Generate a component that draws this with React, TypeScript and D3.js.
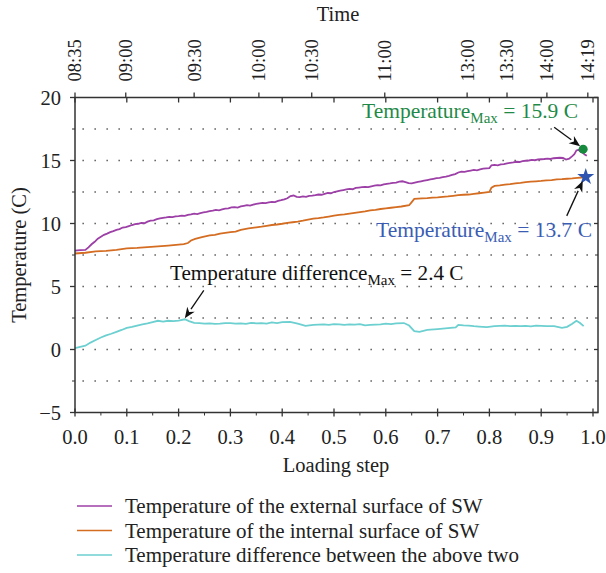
import React from "react";
import * as d3 from "d3";

const W = 606;
const H = 573;

// Loading step (x) and temperature (C) values
const extX = [0.000,0.010,0.020,0.026,0.032,0.038,0.044,0.050,0.056,0.062,0.068,0.074,0.080,0.086,0.092,0.098,0.104,0.110,0.116,0.122,0.128,0.134,0.140,0.146,0.152,0.158,0.164,0.170,0.176,0.182,0.188,0.194,0.200,0.206,0.212,0.218,0.224,0.230,0.236,0.242,0.248,0.254,0.260,0.266,0.272,0.278,0.284,0.290,0.296,0.302,0.308,0.314,0.320,0.326,0.332,0.338,0.344,0.350,0.356,0.362,0.368,0.374,0.380,0.386,0.392,0.398,0.404,0.410,0.416,0.422,0.428,0.434,0.440,0.446,0.452,0.458,0.464,0.470,0.476,0.482,0.488,0.494,0.500,0.506,0.512,0.518,0.524,0.530,0.536,0.542,0.548,0.554,0.560,0.566,0.572,0.578,0.584,0.590,0.596,0.602,0.608,0.614,0.620,0.626,0.632,0.638,0.644,0.650,0.656,0.662,0.668,0.674,0.680,0.686,0.692,0.698,0.704,0.710,0.716,0.722,0.728,0.734,0.740,0.746,0.752,0.758,0.764,0.770,0.776,0.782,0.788,0.794,0.800,0.804,0.810,0.816,0.822,0.828,0.834,0.840,0.846,0.852,0.858,0.864,0.870,0.876,0.882,0.888,0.894,0.900,0.906,0.912,0.918,0.924,0.930,0.936,0.942,0.948,0.954,0.960,0.964,0.968,0.972,0.976,0.980,0.984,0.988];
const extY = [7.85,7.88,7.90,8.10,8.35,8.55,8.80,8.95,9.10,9.20,9.32,9.40,9.50,9.55,9.68,9.72,9.80,9.88,9.95,9.98,10.05,10.02,10.15,10.22,10.25,10.35,10.40,10.45,10.48,10.52,10.50,10.56,10.58,10.62,10.60,10.68,10.72,10.78,10.75,10.82,10.88,10.92,10.98,11.02,11.08,11.05,11.12,11.18,11.20,11.28,11.30,11.26,11.35,11.40,11.45,11.42,11.50,11.55,11.60,11.64,11.62,11.68,11.72,11.70,11.80,11.85,11.92,12.00,12.18,12.22,12.12,12.10,12.15,12.12,12.20,12.22,12.25,12.30,12.28,12.35,12.42,12.40,12.50,12.55,12.60,12.65,12.70,12.75,12.72,12.82,12.85,12.88,12.90,12.88,12.95,13.00,13.05,13.02,13.10,13.15,13.18,13.22,13.25,13.32,13.35,13.28,13.20,13.18,13.25,13.30,13.35,13.40,13.45,13.50,13.55,13.60,13.62,13.68,13.72,13.78,13.85,13.92,14.05,14.12,14.10,14.15,14.20,14.25,14.22,14.30,14.35,14.38,14.40,14.62,14.65,14.62,14.70,14.72,14.78,14.82,14.85,14.90,14.88,14.95,14.98,15.00,15.05,15.02,15.08,15.10,15.12,15.15,15.12,15.18,15.20,15.22,15.20,15.08,15.15,15.35,15.50,15.80,15.85,15.70,15.62,15.48,15.38];

const intX = [0.000,0.020,0.040,0.060,0.080,0.100,0.120,0.140,0.160,0.180,0.200,0.210,0.218,0.224,0.232,0.245,0.260,0.270,0.280,0.290,0.300,0.310,0.320,0.335,0.350,0.360,0.370,0.380,0.390,0.400,0.410,0.420,0.430,0.440,0.450,0.460,0.470,0.480,0.490,0.500,0.510,0.520,0.530,0.540,0.550,0.560,0.570,0.580,0.590,0.600,0.610,0.620,0.630,0.645,0.650,0.655,0.670,0.680,0.690,0.700,0.710,0.720,0.730,0.740,0.750,0.760,0.770,0.780,0.790,0.800,0.804,0.810,0.820,0.830,0.840,0.850,0.860,0.870,0.880,0.890,0.900,0.910,0.920,0.930,0.940,0.950,0.960,0.970,0.978,0.986];
const intY = [7.62,7.68,7.78,7.82,7.90,8.02,8.06,8.12,8.18,8.25,8.32,8.36,8.45,8.65,8.78,8.92,9.05,9.10,9.20,9.26,9.32,9.36,9.50,9.62,9.70,9.75,9.82,9.88,9.92,9.98,10.05,10.10,10.15,10.22,10.30,10.38,10.42,10.48,10.55,10.62,10.68,10.72,10.78,10.84,10.90,10.96,11.05,11.08,11.15,11.20,11.25,11.30,11.35,11.45,11.70,11.95,12.00,12.02,12.05,12.08,12.12,12.15,12.20,12.25,12.28,12.30,12.35,12.40,12.45,12.50,12.85,12.98,13.02,13.08,13.12,13.18,13.22,13.28,13.32,13.35,13.38,13.42,13.45,13.50,13.52,13.55,13.58,13.62,13.65,13.68];

const difX = [0.000,0.010,0.020,0.030,0.040,0.050,0.060,0.070,0.080,0.090,0.100,0.110,0.120,0.130,0.140,0.150,0.160,0.170,0.180,0.190,0.200,0.212,0.220,0.230,0.240,0.250,0.260,0.270,0.280,0.290,0.300,0.310,0.320,0.330,0.340,0.350,0.360,0.370,0.380,0.390,0.400,0.415,0.430,0.445,0.460,0.470,0.480,0.490,0.500,0.510,0.520,0.530,0.540,0.550,0.560,0.570,0.580,0.590,0.600,0.610,0.620,0.635,0.645,0.655,0.665,0.680,0.700,0.720,0.735,0.740,0.750,0.760,0.770,0.780,0.795,0.810,0.820,0.830,0.840,0.850,0.860,0.870,0.880,0.890,0.900,0.910,0.925,0.940,0.950,0.960,0.968,0.975,0.982];
const difY = [0.10,0.20,0.30,0.55,0.75,0.95,1.12,1.25,1.40,1.55,1.72,1.80,1.90,2.00,2.08,2.18,2.28,2.22,2.28,2.25,2.30,2.40,2.25,2.12,2.10,2.06,2.08,2.04,2.05,2.10,2.10,2.06,2.08,2.04,2.12,2.08,2.10,2.06,2.15,2.10,2.18,2.20,2.05,1.88,1.95,1.98,2.00,1.96,2.02,2.00,1.95,2.00,1.98,2.02,1.92,1.95,1.98,2.00,2.05,2.02,2.08,2.10,1.90,1.45,1.40,1.55,1.62,1.70,1.75,1.95,1.92,1.90,1.85,1.82,1.78,1.85,1.88,1.90,1.86,1.88,1.85,1.88,1.84,1.90,1.88,1.86,1.85,1.72,1.80,2.05,2.28,2.10,1.85];

const xTicks = [0, 0.1, 0.2, 0.3, 0.4, 0.5, 0.6, 0.7, 0.8, 0.9, 1.0];
const yTicks = [-5, 0, 5, 10, 15, 20];
const yGrid = [-2.5, 0, 2.5, 5, 7.5, 10, 12.5, 15, 17.5];
const timeLabels = ["08:35", "09:00", "09:30", "10:00", "10:30", "11:00", "13:00", "13:30", "14:00", "14:19"];
const timePositions = [0, 0.098, 0.23, 0.355, 0.457, 0.598, 0.757, 0.834, 0.911, 0.99];

const seriesNames = [
  "Temperature of the external surface of SW",
  "Temperature of the internal surface of SW",
  "Temperature difference between the above two",
];
const seriesColors = ["#9c3fa6", "#d46d22", "#6ccfd0"];

const maxExt = { x: 0.981, y: 15.9 };
const maxInt = { x: 0.986, y: 13.7 };
const maxDif = { x: 0.212, y: 2.4 };

const FONT = '"Liberation Serif", "DejaVu Serif", "Times New Roman", serif';

function Arrow({ x1, y1, x2, y2 }: { x1: number; y1: number; x2: number; y2: number }) {
  const ang = Math.atan2(y2 - y1, x2 - x1);
  const L = 11, Wd = 4.5;
  const bx = x2 - L * Math.cos(ang), by = y2 - L * Math.sin(ang);
  const p1 = [bx + Wd * Math.sin(ang), by - Wd * Math.cos(ang)];
  const p2 = [bx - Wd * Math.sin(ang), by + Wd * Math.cos(ang)];
  const mx = x2 - 0.7 * L * Math.cos(ang), my = y2 - 0.7 * L * Math.sin(ang);
  return (
    <g>
      <line x1={x1} y1={y1} x2={bx} y2={by} stroke="#111" strokeWidth={1.3} />
      <path d={`M${x2},${y2}L${p1[0]},${p1[1]}L${mx},${my}L${p2[0]},${p2[1]}Z`} fill="#111" />
    </g>
  );
}

export default function App() {
  const left = 75, right = 598, top = 97.5, bottom = 412.5;
  const x = d3.scaleLinear().domain([0, 1]).range([left, 593]);
  const y = d3.scaleLinear().domain([-5, 20]).range([bottom, top]);
  const line = d3.line<[number, number]>().x((d) => x(d[0])).y((d) => y(d[1]));
  const ext = extX.map((v, i) => [v, extY[i]] as [number, number]);
  const int = intX.map((v, i) => [v, intY[i]] as [number, number]);
  const dif = difX.map((v, i) => [v, difY[i]] as [number, number]);

  const minorX = d3.range(0.05, 1.0, 0.1);
  const minorY = [-2.5, 2.5, 7.5, 12.5, 17.5];
  const axisColor = "#333";

  const star = d3.symbol().type(d3.symbolStar).size(90)();
  const txt = { fontFamily: FONT };

  return (
    <svg width={W} height={H} style={{ position: "absolute", left: 0, top: 0, background: "#fff", fontFamily: FONT }}>
      {/* grid */}
      {yGrid.map((g) => (
        <line key={"g" + g} x1={left} x2={right - 6} y1={y(g)} y2={y(g)} stroke="#444" strokeWidth={1.3}
          strokeDasharray="1.3 10.7" strokeDashoffset={-7.5} />
      ))}

      {/* series */}
      <path d={line(dif) || ""} fill="none" stroke={seriesColors[2]} strokeWidth={1.8} />
      <path d={line(int) || ""} fill="none" stroke={seriesColors[1]} strokeWidth={1.8} />
      <path d={line(ext) || ""} fill="none" stroke={seriesColors[0]} strokeWidth={1.8} />

      {/* frame */}
      <rect x={left} y={top} width={right - left} height={bottom - top} fill="none" stroke={axisColor} strokeWidth={1.5} />

      {/* bottom ticks */}
      {xTicks.map((t) => (
        <g key={"xt" + t}>
          <line x1={x(t)} x2={x(t)} y1={bottom - 4} y2={bottom + 4} stroke={axisColor} strokeWidth={1.3} />
          <line x1={x(t)} x2={x(t)} y1={top} y2={top + 5} stroke={axisColor} strokeWidth={1.3} />
          <text style={txt} x={x(t)} y={bottom + 31} textAnchor="middle" fontSize={20.5} fill="#222">{t.toFixed(1)}</text>
        </g>
      ))}
      {minorX.map((t) => (
        <line key={"mx" + t} x1={x(t)} x2={x(t)} y1={bottom} y2={bottom + 3} stroke={axisColor} strokeWidth={1} />
      ))}

      {/* left & right ticks */}
      {yTicks.map((t) => (
        <g key={"yt" + t}>
          <line x1={left - 5} x2={left} y1={y(t)} y2={y(t)} stroke={axisColor} strokeWidth={1.3} />
          <line x1={right - 4} x2={right} y1={y(t)} y2={y(t)} stroke={axisColor} strokeWidth={1.3} />
          <text style={txt} x={61} y={y(t)} dy="0.35em" textAnchor="end" fontSize={20.5} fill="#222">
            {t < 0 ? "\u2212" + Math.abs(t) : t}
          </text>
        </g>
      ))}
      {minorY.map((t) => (
        <g key={"my" + t}>
          <line x1={left - 3} x2={left} y1={y(t)} y2={y(t)} stroke={axisColor} strokeWidth={1} />
          <line x1={right - 3} x2={right} y1={y(t)} y2={y(t)} stroke={axisColor} strokeWidth={1} />
        </g>
      ))}

      {/* top time axis */}
      {timeLabels.map((lab, i) => {
        const tx = x(timePositions[i]);
        return (
          <g key={"tt" + lab}>
            <line x1={tx} x2={tx} y1={top - 5} y2={top} stroke={axisColor} strokeWidth={1.3} />
            <text style={txt} transform={`translate(${tx},${top - 16}) rotate(-90)`} textAnchor="start" dy="0.35em" fontSize={18.5} fill="#222">{lab}</text>
          </g>
        );
      })}

      {/* axis titles */}
      <text style={txt} x={338} y={21} textAnchor="middle" fontSize={20.5} fill="#222">Time</text>
      <text style={txt} x={336} y={472} textAnchor="middle" fontSize={20.5} fill="#222">Loading step</text>
      <text style={txt} transform={`translate(26,255) rotate(-90)`} textAnchor="middle" fontSize={20.5} fill="#222">Temperature (C)</text>

      {/* markers */}
      <circle cx={x(maxExt.x)} cy={y(maxExt.y)} r={4.5} fill="#178a3e" />
      <path d={star || ""} transform={`translate(${x(maxInt.x)},${y(maxInt.y)})`} fill="#2f55b0" />

      {/* annotations */}
      <Arrow x1={x(maxExt.x) - 29} y1={y(maxExt.y) - 22} x2={x(maxExt.x) - 3} y2={y(maxExt.y) - 3} />
      <Arrow x1={x(maxInt.x) - 19} y1={y(maxInt.y) + 39} x2={x(maxInt.x) - 3} y2={y(maxInt.y) + 4} />
      <Arrow x1={x(maxDif.x) + 19} y1={y(maxDif.y) - 29} x2={x(maxDif.x)} y2={y(maxDif.y) - 1} />

      <text style={txt} x={362} y={118} fontSize={21.5} fill="#1f8a48">
        Temperature<tspan fontSize={15} dy={5}>Max</tspan><tspan dy={-5}> = 15.9 C</tspan>
      </text>
      <text style={txt} x={376} y={237} fontSize={21.5} fill="#3a5db3">
        Temperature<tspan fontSize={15} dy={5}>Max</tspan><tspan dy={-5}> = 13.7 C</tspan>
      </text>
      <text style={txt} x={170} y={280} fontSize={21.2} fill="#111">
        Temperature difference<tspan fontSize={15} dy={5}>Max</tspan><tspan dy={-5}> = 2.4 C</tspan>
      </text>

      {/* legend */}
      {seriesNames.map((n, i) => (
        <g key={n}>
          <line x1={77} x2={112} y1={506 + i * 24.5} y2={506 + i * 24.5} stroke={seriesColors[i]} strokeWidth={1.5} />
          <text style={txt} x={125} y={506 + i * 24.5} dy="0.35em" fontSize={21} fill="#222">{n}</text>
        </g>
      ))}
    </svg>
  );
}
